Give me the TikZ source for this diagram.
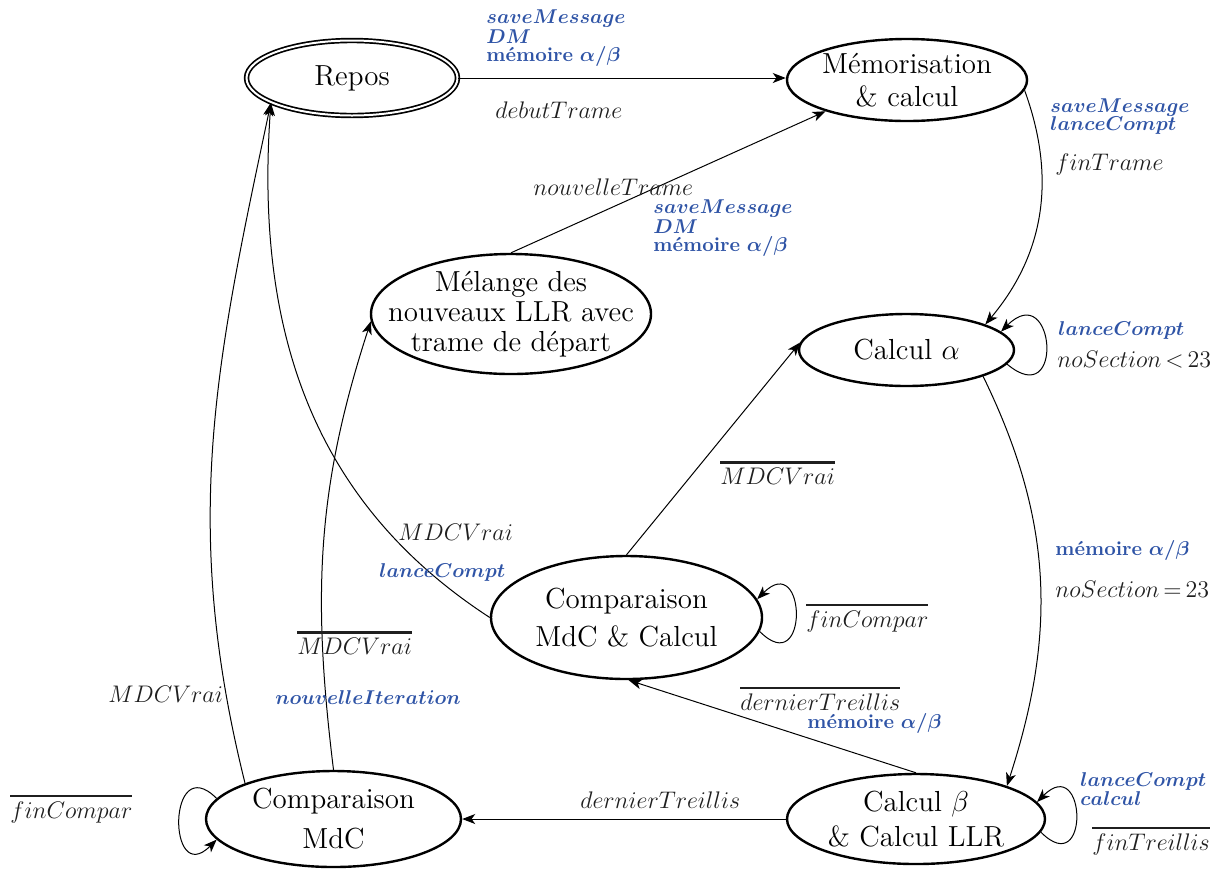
\documentclass[tikz,border=0pt]{standalone}
\usepackage{amsmath}
\usetikzlibrary{shapes.geometric,arrows.meta}
\definecolor{actblue}{RGB}{47,84,166}
\newcommand{\ovl}[1]{\vbox{\hrule height 1.1pt\kern 2pt\hbox{$#1$}}}
\begin{document}
\begin{tikzpicture}[x=0.5pt,y=-0.5pt,
  state/.style={ellipse, draw, line width=1.2pt, inner sep=0pt, align=center},
  nfont/.style={font=\fontsize{14.5}{#1}\selectfont},
  arr/.style={-{Stealth[length=6.5pt,width=5pt,inset=1.8pt]}, line width=0.5pt},
  lab/.style={anchor=base west, inner sep=0pt, text=black!88, font=\fontsize{12}{12}\selectfont},
  act/.style={anchor=base west, inner sep=0pt, text=actblue, font=\fontsize{10}{10}\selectfont},
]
\useasboundingbox (0,0) rectangle (1213,869);

% states
\node[state, nfont=17, double, double distance=1pt, line width=0.85pt,
      minimum width=105.5pt, minimum height=37.5pt] (repos) at (352,78) {Repos};
\node[state, nfont=16.5, minimum width=113pt, minimum height=41pt] (mem) at (907,80) {Mémorisation\\\& calcul};
\node[state, nfont=15, inner xsep=-17pt, inner ysep=-4pt, minimum width=140pt, minimum height=60pt] (mel) at (511,314) {Mélange des\\nouveaux LLR avec\\trame de départ};
\node[state, nfont=17, minimum width=107.5pt, minimum height=36pt] (calca) at (906.5,350) {Calcul $\alpha$};
\node[state, nfont=19, minimum width=135.5pt, minimum height=61.5pt] (cmcc) at (626.5,617.5) {Comparaison\\MdC \& Calcul};
\node[state, nfont=20, minimum width=127.5pt, minimum height=48pt] (cmdc) at (333.5,819) {Comparaison\\MdC};
\node[state, nfont=17.5, minimum width=129pt, minimum height=45pt] (calcb) at (916,819) {Calcul $\beta$\\\& Calcul LLR};

% transitions
\draw[arr] (repos.east) -- (mem.west |- repos.east);
\draw[arr] (mem.-5) to[out=-70,in=50] (calca.18);
\draw[arr] (mel.north) -- (mem.201);
\draw[arr] (calca.-8) to[out=-40,in=45,distance=38pt] (calca.11);
\draw[arr] (calca.-19) to[out=-64,in=72] (calcb.20);
\draw[arr] (calcb.-6.5) to[out=-45,in=45,distance=35pt] (calcb.8);
\draw[arr] (calcb.north) -- (cmcc.-88);
\draw[arr] (calcb.west) -- (cmdc.east);
\draw[arr] (cmdc.170) to[out=135,in=-135,distance=35pt] (cmdc.190);
\draw[arr] (cmdc.158) to[out=104,in=-102] (repos.197);
\draw[arr] (cmdc.north) to[out=97,in=-108] (mel.183);
\draw[arr] (cmcc.north) -- (calca.176);
\draw[arr] (cmcc.west) to[out=147,in=-94] (repos.197);
\draw[arr] (cmcc.-6) to[out=-45,in=45,distance=35pt] (cmcc.8);

% labels
\node[act] (l1a) at (486,23) {$\boldsymbol{saveMessage}$};
\node[act] (l1b) at (486,43) {$\boldsymbol{DM}$};
\node[act] (l1c) at (486,61) {\textbf{mémoire} $\boldsymbol{\alpha/\beta}$};
\node[lab] (l1d) at (495,118) {$debutTrame$};

\node[act] (l2a) at (1050,112) {$\boldsymbol{saveMessage}$};
\node[act] (l2b) at (1050,130) {$\boldsymbol{lanceCompt}$};
\node[lab] (l2c) at (1055,170) {$finTrame$};

\node[lab] (l3a) at (533,195) {$nouvelleTrame$};
\node[act] (l3b) at (653,213) {$\boldsymbol{saveMessage}$};
\node[act] (l3c) at (653,233) {$\boldsymbol{DM}$};
\node[act] (l3d) at (653,251) {\textbf{mémoire} $\boldsymbol{\alpha/\beta}$};

\node[act] (l4a) at (1058,335) {$\boldsymbol{lanceCompt}$};
\node[lab] (l4b) at (1057,367) {$noSection{\,<\,}23$};

\node[act] (l5a) at (1055,555) {\textbf{mémoire} $\boldsymbol{\alpha/\beta}$};
\node[lab] (l5b) at (1055,597) {$noSection{\,=\,}23$};

\node[lab] (l6) at (720,484) {\ovl{MDCVrai}};
\node[lab] (l7a) at (398,540) {$MDCVrai$};
\node[act] (l7b) at (379,577) {$\boldsymbol{lanceCompt}$};
\node[lab] (l8) at (806,627) {\ovl{finCompar}};
\node[lab] (l9a) at (297,654) {\ovl{MDCVrai}};
\node[act] (l9b) at (275,704) {$\boldsymbol{nouvelleIteration}$};
\node[lab] (l10) at (108,702) {$MDCVrai$};
\node[lab] (l11) at (10,818) {\ovl{finCompar}};
\node[lab] (l12a) at (740,710) {\ovl{dernierTreillis}};
\node[act] (l12b) at (807,728) {\textbf{mémoire} $\boldsymbol{\alpha/\beta}$};
\node[lab] (l13) at (580,808) {$dernierTreillis$};
\node[act] (l14a) at (1080,786) {$\boldsymbol{lanceCompt}$};
\node[act] (l14b) at (1080,805) {$\boldsymbol{calcul}$};
\node[lab] (l14c) at (1092,850) {\ovl{finTreillis}};
\end{tikzpicture}
\end{document}
